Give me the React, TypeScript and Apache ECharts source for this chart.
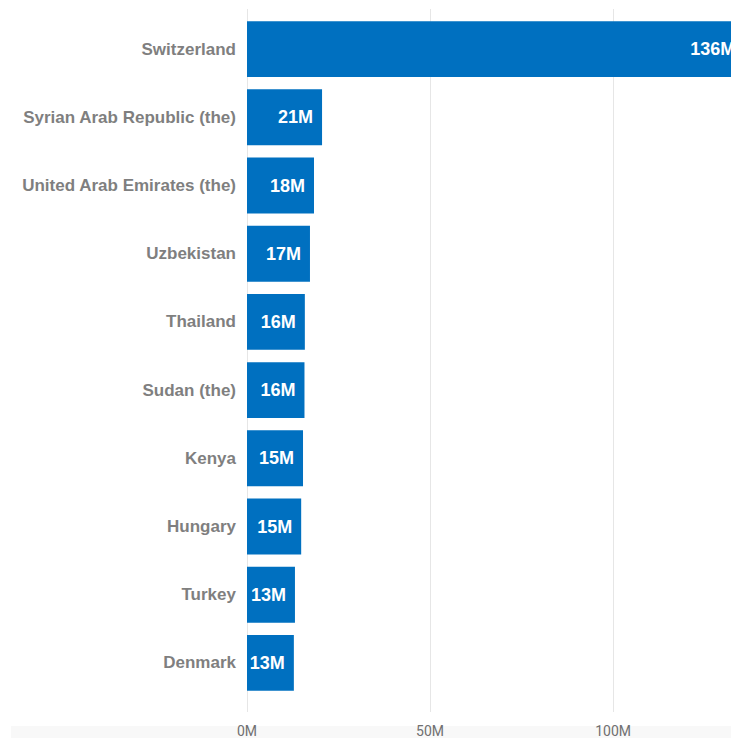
import React, { useEffect, useRef } from "react";
import * as echarts from "echarts";

const countries = [
  "Switzerland",
  "Syrian Arab Republic (the)",
  "United Arab Emirates (the)",
  "Uzbekistan",
  "Thailand",
  "Sudan (the)",
  "Kenya",
  "Hungary",
  "Turkey",
  "Denmark",
];
const valuesM = [135.8, 20.5, 18.3, 17.2, 15.8, 15.7, 15.3, 14.8, 13.1, 12.8];
const tickLabels = ["0M", "50M", "100M"];

const X_MAX = 132.2; // visible extent of the value axis (chart is cropped at the right)

export default function App() {
  const ref = useRef<HTMLDivElement>(null);
  useEffect(() => {
    if (!ref.current) return;
    const chart = echarts.init(ref.current, undefined, { renderer: "svg" });
    chart.setOption({
      animation: false,
      backgroundColor: "#ffffff",
      graphic: [
        {
          type: "rect",
          z: -10,
          shape: { x: 11, y: 726, width: 740, height: 12 },
          style: { fill: "#f8f8f8" },
          silent: true,
        },
      ],
      grid: [
        { left: 247, right: 0, top: 9, height: 710 },
        { left: 247, right: 0, top: 15, height: 682 },
      ],
      xAxis: [
        {
          type: "value",
          gridIndex: 0,
          min: 0,
          max: X_MAX,
          interval: 50,
          axisLine: { show: false },
          axisTick: { show: false },
          splitLine: { show: true, lineStyle: { color: "#e6e6e6", width: 1 } },
          axisLabel: {
            margin: 12,
            color: "#707070",
            fontSize: 14,
            fontFamily: "Roboto, 'Liberation Sans', sans-serif",
            showMaxLabel: false,
            formatter: (v: number) => {
              const i = v / 50;
              return Number.isInteger(i) ? tickLabels[i] ?? "" : "";
            },
          },
        },
        {
          type: "value",
          gridIndex: 1,
          min: 0,
          max: X_MAX,
          show: false,
          splitLine: { show: false },
        },
      ],
      yAxis: [
        {
          type: "category",
          gridIndex: 0,
          show: false,
          data: [],
        },
        {
          type: "category",
          gridIndex: 1,
          inverse: true,
          data: countries,
          axisLine: { show: false },
          axisTick: { show: false },
          axisLabel: {
            margin: 11,
            color: "#7f7f7f",
            fontSize: 17,
            fontWeight: "bold",
            fontFamily: "'Liberation Sans', Arial, sans-serif",
          },
        },
      ],
      series: [
        {
          type: "bar",
          xAxisIndex: 1,
          yAxisIndex: 1,
          data: valuesM,
          barCategoryGap: "18%",
          clip: false,
          itemStyle: { color: "#0070c0" },
          label: {
            show: true,
            position: "insideRight",
            distance: 9,
            color: "#ffffff",
            fontSize: 18,
            fontWeight: "bold",
            fontFamily: "'Liberation Sans', Arial, sans-serif",
            formatter: (p: any) => Math.round(p.value) + "M",
          },
        },
      ],
    });
    return () => chart.dispose();
  }, []);
  return (
    <div
      style={{
        position: "absolute",
        left: 0,
        top: 0,
        width: 731,
        height: 738,
        overflow: "hidden",
        background: "#ffffff",
      }}
    >
      <div ref={ref} style={{ width: 731, height: 738 }} />
    </div>
  );
}
